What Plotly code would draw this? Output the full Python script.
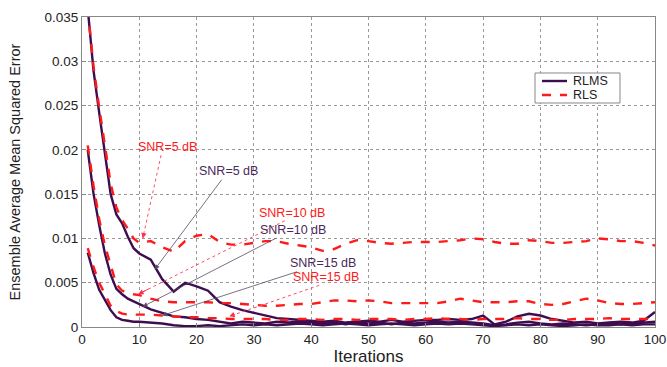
import plotly.graph_objects as go

iterations = [1, 2, 3, 4, 5, 6, 7, 8, 9, 10, 12, 14, 16, 18, 20, 22, 24, 26, 28, 30,
              32, 34, 36, 38, 40, 42, 44, 46, 48, 50, 52, 54, 56, 58, 60, 62, 64, 66, 68, 70,
              72, 74, 76, 78, 80, 82, 84, 86, 88, 90, 92, 94, 96, 98, 100]

rlms_5db = [0.0360, 0.0290, 0.0242, 0.0195, 0.0150, 0.0127, 0.0117, 0.0102, 0.0089, 0.0083,
            0.0076, 0.0054, 0.0040, 0.0050, 0.0046, 0.0041, 0.0028, 0.0023, 0.0019, 0.0016,
            0.0013, 0.0010, 0.0009, 0.0008, 0.0007, 0.0006, 0.0007, 0.0005, 0.0006, 0.0007,
            0.0006, 0.0008, 0.0006, 0.0007, 0.0008, 0.0008, 0.0009, 0.0008, 0.0009, 0.0013,
            0.0003, 0.0006, 0.0012, 0.0015, 0.0013, 0.0009, 0.0007, 0.0005, 0.0006, 0.0004,
            0.0005, 0.0006, 0.0005, 0.0007, 0.0017]

rlms_10db = [0.0200, 0.0151, 0.0115, 0.0083, 0.0059, 0.0043, 0.0037, 0.0032, 0.0029, 0.0026,
             0.0020, 0.0016, 0.0012, 0.0011, 0.0009, 0.0008, 0.0006, 0.0004, 0.0006, 0.0005,
             0.0004, 0.0006, 0.0005, 0.0006, 0.0005, 0.0004, 0.0005, 0.0003, 0.0005, 0.0004,
             0.0005, 0.0003, 0.0005, 0.0004, 0.0005, 0.0006, 0.0005, 0.0006, 0.0005, 0.0004,
             0.0002, 0.0003, 0.0005, 0.0006, 0.0004, 0.0003, 0.0004, 0.0003, 0.0002, 0.0003,
             0.0004, 0.0003, 0.0004, 0.0005, 0.0006]

rlms_15db = [0.0084, 0.0061, 0.0042, 0.0030, 0.0019, 0.0011, 0.0008, 0.0007, 0.0006, 0.0006,
             0.0005, 0.0004, 0.0002, 0.0001, 0.0001, 0.0002, 0.0001, 0.0002, 0.0003, 0.0002,
             0.0003, 0.0002, 0.0003, 0.0004, 0.0003, 0.0002, 0.0003, 0.0004, 0.0003, 0.0002,
             0.0003, 0.0004, 0.0003, 0.0002, 0.0003, 0.0004, 0.0003, 0.0004, 0.0003, 0.0002,
             0.0001, 0.0002, 0.0003, 0.0002, 0.0003, 0.0002, 0.0001, 0.0002, 0.0003, 0.0002,
             0.0002, 0.0003, 0.0002, 0.0003, 0.0003]

rls_5db = [0.0360, 0.0295, 0.0248, 0.0205, 0.0162, 0.0135, 0.0121, 0.0111, 0.0100, 0.0095,
           0.0097, 0.0090, 0.0085, 0.0097, 0.0103, 0.0105, 0.0096, 0.0093, 0.0093, 0.0095,
           0.0097, 0.0097, 0.0094, 0.0092, 0.0090, 0.0086, 0.0088, 0.0094, 0.0098, 0.0097,
           0.0095, 0.0094, 0.0095, 0.0096, 0.0096, 0.0096, 0.0097, 0.0098, 0.0100, 0.0099,
           0.0096, 0.0094, 0.0094, 0.0098, 0.0097, 0.0095, 0.0095, 0.0096, 0.0097, 0.0100,
           0.0099, 0.0097, 0.0097, 0.0095, 0.0092]

rls_10db = [0.0205, 0.0160, 0.0122, 0.0092, 0.0070, 0.0048, 0.0041, 0.0039, 0.0037, 0.0036,
            0.0032, 0.0029, 0.0028, 0.0028, 0.0028, 0.0028, 0.0027, 0.0027, 0.0026, 0.0025,
            0.0024, 0.0024, 0.0025, 0.0026, 0.0026, 0.0028, 0.0030, 0.0030, 0.0029, 0.0030,
            0.0029, 0.0027, 0.0027, 0.0027, 0.0027, 0.0027, 0.0029, 0.0032, 0.0030, 0.0028,
            0.0028, 0.0028, 0.0029, 0.0029, 0.0026, 0.0025, 0.0026, 0.0029, 0.0032, 0.0030,
            0.0027, 0.0026, 0.0026, 0.0027, 0.0028]

rls_15db = [0.0089, 0.0068, 0.0050, 0.0036, 0.0024, 0.0018, 0.0015, 0.0014, 0.0014, 0.0014,
            0.0014, 0.0013, 0.0012, 0.0011, 0.0011, 0.0010, 0.0010, 0.0009, 0.0009, 0.0009,
            0.0009, 0.0008, 0.0008, 0.0009, 0.0009, 0.0008, 0.0009, 0.0009, 0.0008, 0.0009,
            0.0009, 0.0009, 0.0008, 0.0009, 0.0009, 0.0010, 0.0009, 0.0009, 0.0008, 0.0009,
            0.0009, 0.0009, 0.0010, 0.0009, 0.0009, 0.0008, 0.0008, 0.0009, 0.0009, 0.0009,
            0.0010, 0.0009, 0.0009, 0.0009, 0.0009]

x_ticks = [0, 10, 20, 30, 40, 50, 60, 70, 80, 90, 100]
y_ticks = [0, 0.005, 0.01, 0.015, 0.02, 0.025, 0.03, 0.035]
y_tick_labels = ["0", "0.005", "0.01", "0.015", "0.02", "0.025", "0.03", "0.035"]

legend_names = ["RLMS", "RLS"]

PURPLE = "#3d0d4f"
RED = "#ff1a1a"
TXT_PURPLE = "#4a2a5a"
FONT = "Liberation Sans, Arial, sans-serif"

fig = go.Figure()

for ys in [rlms_5db, rlms_10db, rlms_15db]:
    fig.add_trace(go.Scatter(x=iterations, y=ys, mode="lines", name=legend_names[0],
                             line=dict(color=PURPLE, width=2.4), showlegend=False))
for ys in [rls_5db, rls_10db, rls_15db]:
    fig.add_trace(go.Scatter(x=iterations, y=ys, mode="lines", name=legend_names[1],
                             line=dict(color=RED, width=2.4, dash="dash"), showlegend=False))

# annotations: (label, color, text x, text y, tip x, tip y)
labels = [
    ("SNR=5 dB", RED, 15.0, 0.0203, 10.6, 0.0100),
    ("SNR=5 dB", TXT_PURPLE, 25.5, 0.0176, 12.7, 0.0065),
    ("SNR=10 dB", RED, 36.6, 0.0129, 9.8, 0.0037),
    ("SNR=10 dB", TXT_PURPLE, 36.8, 0.0110, 10.6, 0.0023),
    ("SNR=15 dB", TXT_PURPLE, 42.1, 0.0072, 14.0, 0.0013),
    ("SNR=15 dB", RED, 42.6, 0.0056, 25.7, 0.0012),
]
for text, col, tx, ty, px, py in labels:
    if col == RED:
        fig.add_annotation(x=tx, y=ty, xref="x", yref="y", text=text, showarrow=False,
                           font=dict(family=FONT, size=12.5, color=col))
        sx = tx - 1.2
        sy = ty - 0.0009
        fig.add_shape(type="line", x0=sx, y0=sy, x1=px, y1=py, xref="x", yref="y",
                      line=dict(color="#ff5068", width=1, dash="dot"))
        dx = (sx - px) * 0.08
        dy = (sy - py) * 0.08
        fig.add_annotation(x=px, y=py, ax=px + dx, ay=py + dy, xref="x", yref="y",
                           axref="x", ayref="y", text="", showarrow=True, arrowhead=2,
                           arrowsize=1.2, arrowwidth=0.9, arrowcolor="#ff3050",
                           standoff=0, startstandoff=0)
    else:
        fig.add_annotation(x=px, y=py, ax=tx, ay=ty, xref="x", yref="y", axref="x", ayref="y",
                           text=text, showarrow=True, arrowhead=2, arrowsize=1.2,
                           arrowwidth=0.8, arrowcolor="#5a4a66",
                           font=dict(family=FONT, size=12.5, color=col),
                           standoff=0, startstandoff=0)

# custom legend box (paper coordinates)
leg_y1 = 0.7935
leg_y2 = 0.7484
fig.add_shape(type="rect", xref="paper", yref="paper", x0=0.7906, x1=0.9389, y0=0.7226,
              y1=0.8194, line=dict(color="#888888", width=1), fillcolor="white", layer="above")
fig.add_shape(type="line", xref="paper", yref="paper", x0=0.8028, x1=0.8464, y0=leg_y1,
              y1=leg_y1, line=dict(color=PURPLE, width=2.4), layer="above")
fig.add_shape(type="line", xref="paper", yref="paper", x0=0.8028, x1=0.8464, y0=leg_y2,
              y1=leg_y2, line=dict(color=RED, width=2.4, dash="dash"), layer="above")
fig.add_annotation(x=0.8551, y=leg_y1, xref="paper", yref="paper", text=legend_names[0],
                   showarrow=False, xanchor="left", yanchor="middle", borderpad=0,
                   font=dict(family=FONT, size=12.5, color="#222222"))
fig.add_annotation(x=0.8551, y=leg_y2, xref="paper", yref="paper", text=legend_names[1],
                   showarrow=False, xanchor="left", yanchor="middle", borderpad=0,
                   font=dict(family=FONT, size=12.5, color="#222222"))

fig.update_layout(
    width=667, height=367,
    margin=dict(l=82, r=12, t=17, b=40, autoexpand=False),
    paper_bgcolor="white", plot_bgcolor="white",
    font=dict(family=FONT, size=13.5, color="#222222"),
    showlegend=False,
)
fig.update_xaxes(range=[0, 100], tickvals=x_ticks, showgrid=True, automargin=False,
                 gridcolor="#999999", griddash="dot", gridwidth=1,
                 showline=True, linecolor="#888888", mirror=True, linewidth=1,
                 ticks="inside", ticklen=4, tickcolor="#888888", zeroline=False,
                 title=dict(text="Iterations", font=dict(size=17), standoff=3))
fig.update_yaxes(range=[0, 0.035], tickvals=y_ticks, ticktext=y_tick_labels, showgrid=True,
                 automargin=False,
                 gridcolor="#999999", griddash="dot", gridwidth=1,
                 showline=True, linecolor="#888888", mirror=True, linewidth=1,
                 ticks="inside", ticklen=4, tickcolor="#888888", zeroline=False,
                 title=dict(text="Ensemble Average Mean Squared Error", font=dict(size=14.5),
                            standoff=20))

fig.write_html("out.html")
